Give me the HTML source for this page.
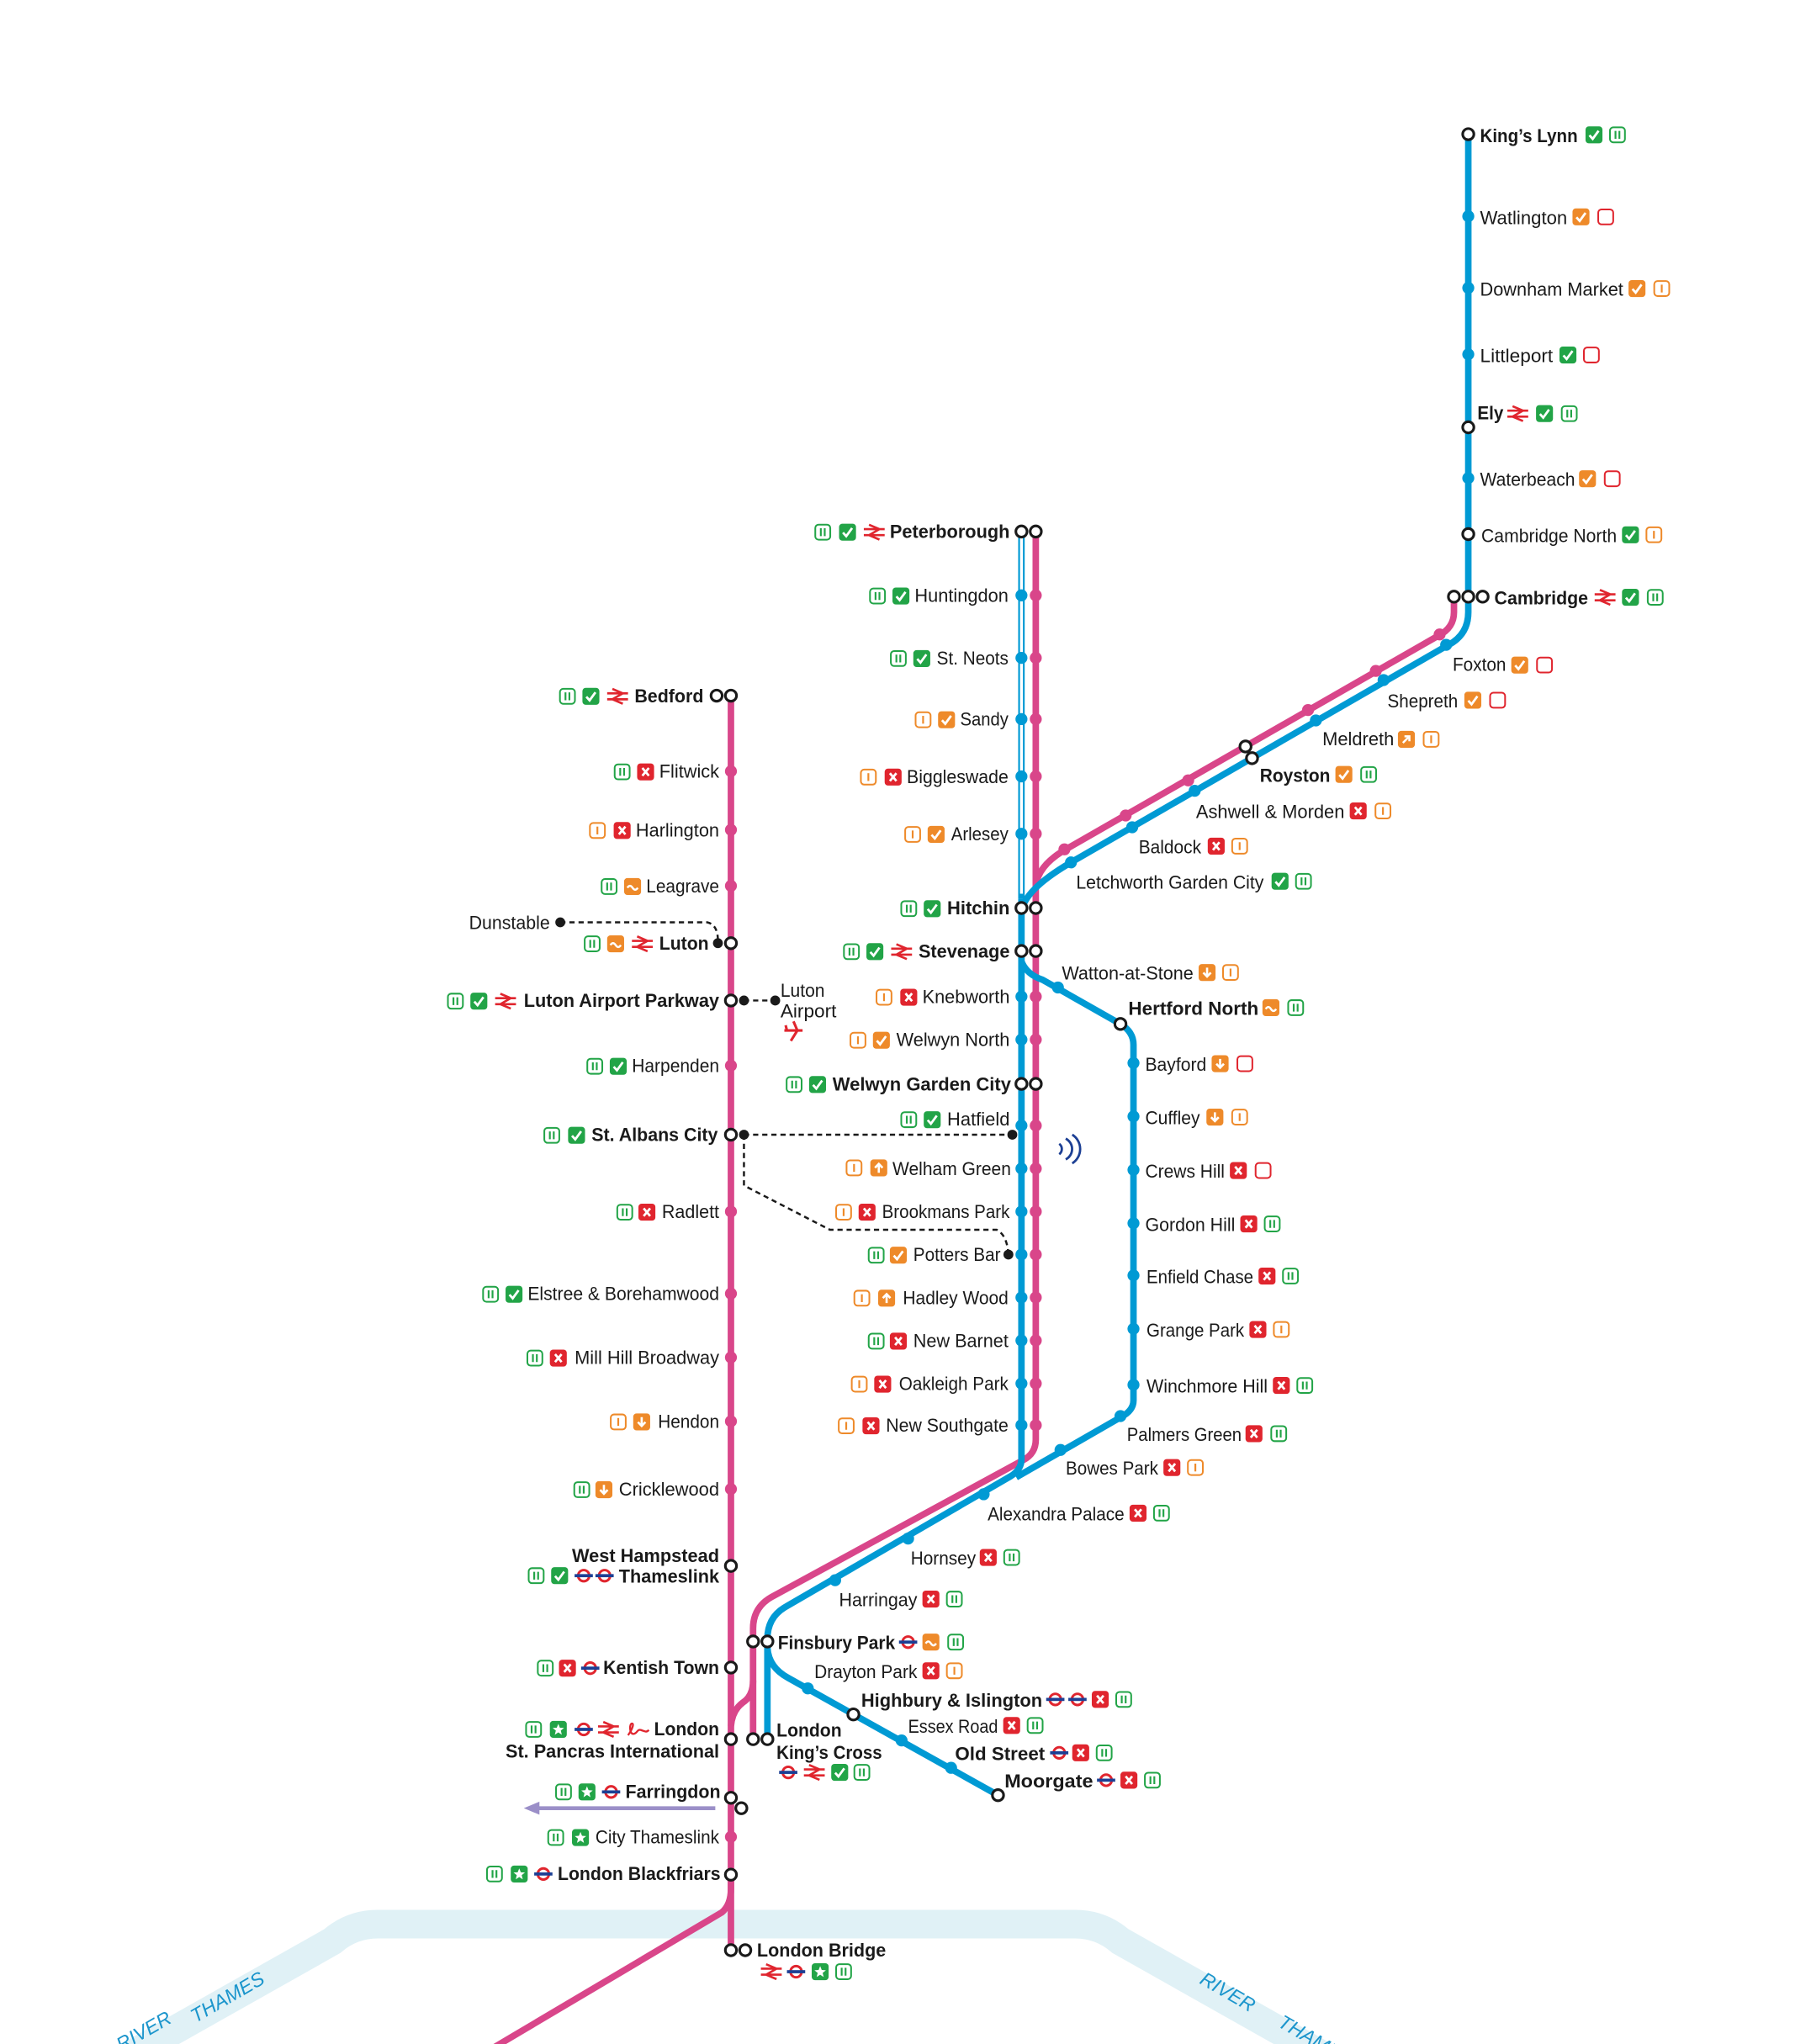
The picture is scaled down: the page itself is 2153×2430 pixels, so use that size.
<!DOCTYPE html>
<html><head><meta charset="utf-8">
<style>
html,body{margin:0;padding:0;background:#fff;}
svg{display:block;}
text{font-family:"Liberation Sans",sans-serif;font-size:14.5px;fill:#1a1a1a;}
.b{font-weight:bold;}
.riv{fill:#1b95cc;font-style:italic;font-size:15px;}
</style></head><body>
<svg width="2153" height="2430" viewBox="0 0 1390 1569" xmlns="http://www.w3.org/2000/svg">
<defs>
<g id="ii"><rect x=".75" y=".75" width="11.5" height="11.5" rx="2.5" fill="#fff" stroke="#22a447" stroke-width="1.3"/><path d="M5 3.5v6M8 3.5v6" stroke="#22a447" stroke-width="1.4"/></g>
<g id="io"><rect x=".75" y=".75" width="11.5" height="11.5" rx="2.5" fill="#fff" stroke="#ee8a2a" stroke-width="1.3"/><path d="M6.5 3.5v6" stroke="#ee8a2a" stroke-width="1.4"/></g>
<g id="ir"><rect x=".75" y=".75" width="11.5" height="11.5" rx="2.5" fill="#fff" stroke="#e0252e" stroke-width="1.3"/></g>
<g id="cg"><rect width="13" height="13" rx="2.5" fill="#22a447"/><path d="M3 6.8l2.5 2.8 4.5-6.2" stroke="#fff" stroke-width="1.8" fill="none"/></g>
<g id="co"><rect width="13" height="13" rx="2.5" fill="#ee8a2a"/><path d="M3 6.8l2.5 2.8 4.5-6.2" stroke="#fff" stroke-width="1.8" fill="none"/></g>
<g id="x"><rect width="13" height="13" rx="2.5" fill="#e0252e"/><path d="M4 3.5l5 6M9 3.5l-5 6" stroke="#fff" stroke-width="1.8"/></g>
<g id="w"><rect width="13" height="13" rx="2.5" fill="#ee8a2a"/><path d="M2.5 7.5q2-3 4 0t4 0" stroke="#fff" stroke-width="1.6" fill="none"/></g>
<g id="d"><rect width="13" height="13" rx="2.5" fill="#ee8a2a"/><path d="M6.5 2.8v7M3.6 6.6l2.9 3 2.9-3" stroke="#fff" stroke-width="1.7" fill="none"/></g>
<g id="u"><rect width="13" height="13" rx="2.5" fill="#ee8a2a"/><path d="M6.5 10.2v-7M3.6 6.4l2.9-3 2.9 3" stroke="#fff" stroke-width="1.7" fill="none"/></g>
<g id="ne"><rect width="13" height="13" rx="2.5" fill="#ee8a2a"/><path d="M3.8 9.2l5-5M5 4.2h3.8v3.8" stroke="#fff" stroke-width="1.6" fill="none"/></g>
<g id="st"><rect width="13" height="13" rx="2.5" fill="#22a447"/><path d="M6.5 2.2l1.2 3 3.2.2-2.5 2 .8 3.2-2.7-1.8-2.7 1.8.8-3.2-2.5-2 3.2-.2z" fill="#fff"/></g>
<g id="nr"><path d="M0 4.2h16M0 8.8h16M4 .8l8 3.4-8 4.6 8 3.4" stroke="#e0252e" stroke-width="1.7" fill="none"/></g>
<g id="tb"><circle cx="7" cy="6.5" r="4.3" fill="none" stroke="#e0252e" stroke-width="1.9"/><rect x="0" y="5.3" width="14" height="2.4" fill="#1c3f94"/></g>
<g id="eu"><path d="M1 11c3-4 5-9 3-9s-2 8 1 8 3-4 6-3 4 2 6 0" stroke="#e0252e" stroke-width="1.5" fill="none"/></g>
<g id="rg"><circle r="4.3" fill="#fff" stroke="#1a1a1a" stroke-width="2"/></g>
<g id="bd"><circle r="4.6" fill="#009ad4"/></g>
<g id="pd"><circle r="4.6" fill="#d9468a"/></g>
<g id="kd"><circle r="3.8" fill="#1a1a1a"/></g>
</defs>

<!-- Thames -->
<path d="M60 1600 L255 1490 Q270 1477 290 1477 L825 1477 Q845 1477 860 1490 L1055 1600" fill="none" stroke="#e0f1f6" stroke-width="22"/>
<text class="riv" transform="translate(150,1553) rotate(-30)">THAMES</text>
<text class="riv" transform="translate(93,1575) rotate(-30)">RIVER</text>
<text class="riv" transform="translate(920,1522) rotate(30)">RIVER</text>
<text class="riv" transform="translate(980,1555) rotate(30)">THAMES</text>

<!-- Lines -->
<g fill="none" stroke-linejoin="round">
<!-- Thameslink pink -->
<path d="M561 534 L561 1497" stroke="#d9468a" stroke-width="5"/>
<path d="M561 1440 L561 1450 Q561 1462 554 1468 L365 1580" stroke="#d9468a" stroke-width="5"/>
<path d="M795 408 L795 1105 Q795 1116 785 1121 L592 1226 Q578 1234 578 1250 L578 1335" stroke="#d9468a" stroke-width="5"/>
<path d="M578 1290 Q578 1302 570 1307 Q562 1313 561 1325" stroke="#d9468a" stroke-width="5"/>
<path d="M1116 458 L1116 470 Q1116 482 1104 488 L818 652 Q797 664 795 680" stroke="#d9468a" stroke-width="5"/>
<!-- blue -->
<path d="M784 408 L784 690" stroke="#009ad4" stroke-width="5"/>
<path d="M784 412 L784 686" stroke="#fff" stroke-width="2.2"/>
<path d="M784 690 L784 1120 Q784 1128 776 1133 L602 1234 Q589 1242 589 1258 L589 1335" stroke="#009ad4" stroke-width="5"/>
<path d="M1127 103 L1127 470 Q1127 488 1110 496 L822 662 Q786 683 784 700" stroke="#009ad4" stroke-width="5"/>
<path d="M784 738 Q788 748 800 752 L860 786 Q870 792 870 802 L870 1075 Q870 1083 860 1088 L780 1134" stroke="#009ad4" stroke-width="5"/>
<path d="M589 1265 Q590 1280 605 1288 L766 1378" stroke="#009ad4" stroke-width="5"/>
<!-- purple -->
<path d="M549 1388 L410 1388" stroke="#9b8fc8" stroke-width="3"/>
</g>
<path d="M402 1388 L414 1383 L414 1393 Z" fill="#9b8fc8"/>
<!-- dashed links -->
<g fill="none" stroke="#1a1a1a" stroke-width="1.6" stroke-dasharray="4 3">
<path d="M430 708 L543 708 Q551 710 551 722"/>
<path d="M571 768 L595 768"/>
<path d="M571 871 L777 871"/>
<path d="M571 871 L571 910 L637 944 L765 944 Q773 948 774 963"/>
</g>
<use href="#kd" x="430" y="708"/><use href="#kd" x="551" y="724"/><use href="#kd" x="571" y="768"/><use href="#kd" x="595" y="768"/>
<use href="#kd" x="571" y="871"/><use href="#kd" x="777" y="871"/><use href="#kd" x="774" y="963"/>

<!-- pink line dots & rings (Bedford line) -->
<use href="#pd" x="561" y="592"/><use href="#pd" x="561" y="637"/><use href="#pd" x="561" y="680"/><use href="#pd" x="561" y="818"/>
<use href="#pd" x="561" y="930"/><use href="#pd" x="561" y="993"/><use href="#pd" x="561" y="1042"/><use href="#pd" x="561" y="1091"/>
<use href="#pd" x="561" y="1143"/><use href="#pd" x="561" y="1410"/>
<use href="#rg" x="550" y="534"/><use href="#rg" x="561" y="534"/><use href="#rg" x="561" y="724"/><use href="#rg" x="561" y="768"/>
<use href="#rg" x="561" y="871"/><use href="#rg" x="561" y="1202"/><use href="#rg" x="561" y="1280"/><use href="#rg" x="561" y="1335"/>
<use href="#rg" x="561" y="1380"/><use href="#rg" x="569" y="1388"/><use href="#rg" x="561" y="1439"/><use href="#rg" x="561" y="1497"/><use href="#rg" x="572" y="1497"/>

<!-- Peterborough line dots -->
<g>
<use href="#bd" x="784" y="457"/><use href="#pd" x="795" y="457"/>
<use href="#bd" x="784" y="505"/><use href="#pd" x="795" y="505"/>
<use href="#bd" x="784" y="552"/><use href="#pd" x="795" y="552"/>
<use href="#bd" x="784" y="596"/><use href="#pd" x="795" y="596"/>
<use href="#bd" x="784" y="640"/><use href="#pd" x="795" y="640"/>
<use href="#bd" x="784" y="765"/><use href="#pd" x="795" y="765"/>
<use href="#bd" x="784" y="798"/><use href="#pd" x="795" y="798"/>
<use href="#bd" x="784" y="864"/><use href="#pd" x="795" y="864"/>
<use href="#bd" x="784" y="897"/><use href="#pd" x="795" y="897"/>
<use href="#bd" x="784" y="930"/><use href="#pd" x="795" y="930"/>
<use href="#bd" x="784" y="963"/><use href="#pd" x="795" y="963"/>
<use href="#bd" x="784" y="996"/><use href="#pd" x="795" y="996"/>
<use href="#bd" x="784" y="1029"/><use href="#pd" x="795" y="1029"/>
<use href="#bd" x="784" y="1062"/><use href="#pd" x="795" y="1062"/>
<use href="#bd" x="784" y="1094"/><use href="#pd" x="795" y="1094"/>
</g>
<use href="#rg" x="784" y="408"/><use href="#rg" x="795" y="408"/><use href="#rg" x="784" y="697"/><use href="#rg" x="795" y="697"/>
<use href="#rg" x="784" y="730"/><use href="#rg" x="795" y="730"/><use href="#rg" x="784" y="832"/><use href="#rg" x="795" y="832"/>

<!-- Cambridge line -->
<use href="#bd" x="1127" y="166"/><use href="#bd" x="1127" y="221"/><use href="#bd" x="1127" y="272"/><use href="#bd" x="1127" y="367"/>
<use href="#rg" x="1127" y="103"/><use href="#rg" x="1127" y="328"/><use href="#rg" x="1127" y="410"/>
<use href="#rg" x="1116" y="458"/><use href="#rg" x="1127" y="458"/><use href="#rg" x="1138" y="458"/>
<use href="#bd" x="1110" y="495"/><use href="#bd" x="1062" y="522"/><use href="#bd" x="1010" y="553"/><use href="#bd" x="917" y="607"/><use href="#bd" x="869" y="635"/><use href="#bd" x="822" y="662"/>
<use href="#pd" x="1105" y="487"/><use href="#pd" x="1056" y="515"/><use href="#pd" x="1004" y="545"/><use href="#pd" x="912" y="599"/><use href="#pd" x="864" y="626"/><use href="#pd" x="817" y="652"/>
<use href="#rg" x="956" y="573"/><use href="#rg" x="961" y="582"/>

<!-- Hertford loop -->
<use href="#bd" x="812" y="758"/><use href="#rg" x="860" y="786"/>
<use href="#bd" x="870" y="816"/><use href="#bd" x="870" y="857"/><use href="#bd" x="870" y="898"/><use href="#bd" x="870" y="939"/>
<use href="#bd" x="870" y="979"/><use href="#bd" x="870" y="1020"/><use href="#bd" x="870" y="1063"/><use href="#bd" x="860" y="1087"/>
<use href="#bd" x="814" y="1113"/><use href="#bd" x="755" y="1147"/><use href="#bd" x="697" y="1181"/><use href="#bd" x="641" y="1213"/>
<use href="#rg" x="578" y="1260"/><use href="#rg" x="589" y="1260"/><use href="#rg" x="578" y="1335"/><use href="#rg" x="589" y="1335"/>
<use href="#bd" x="620" y="1296"/><use href="#rg" x="655" y="1316"/><use href="#bd" x="692" y="1336"/><use href="#bd" x="730" y="1357"/><use href="#rg" x="766" y="1378"/>

<!-- wifi -->
<g fill="none" stroke="#1c3f94" stroke-width="1.8"><path d="M813 878a5 5 0 0 1 0 8"/><path d="M818 874a9 9 0 0 1 0 16"/><path d="M823 871a13 13 0 0 1 0 22"/></g>
<!-- plane -->
<path d="M602 791 L616 791 M609 784 L612 791 L607 799 M603 787 L604 791" stroke="#e0252e" stroke-width="2" fill="none"/>

<!-- ===== Labels: Bedford line ===== -->
<use href="#ii" x="429" y="528"/><use href="#cg" x="447" y="528"/><use href="#nr" x="466" y="528"/>
<text class="b" x="487" y="539" textLength="53" lengthAdjust="spacingAndGlyphs">Bedford</text>
<use href="#ii" x="471" y="586"/><use href="#x" x="489" y="586"/>
<text x="506" y="597" textLength="46" lengthAdjust="spacingAndGlyphs">Flitwick</text>
<use href="#io" x="452" y="631"/><use href="#x" x="471" y="631"/>
<text x="488" y="642" textLength="64" lengthAdjust="spacingAndGlyphs">Harlington</text>
<use href="#ii" x="461" y="674"/><use href="#w" x="479" y="674"/>
<text x="496" y="685" textLength="56" lengthAdjust="spacingAndGlyphs">Leagrave</text>
<text x="360" y="713" textLength="62" lengthAdjust="spacingAndGlyphs">Dunstable</text>
<use href="#ii" x="448" y="718"/><use href="#w" x="466" y="718"/><use href="#nr" x="485" y="718"/>
<text class="b" x="506" y="729" textLength="38" lengthAdjust="spacingAndGlyphs">Luton</text>
<use href="#ii" x="343" y="762"/><use href="#cg" x="361" y="762"/><use href="#nr" x="380" y="762"/>
<text class="b" x="402" y="773" textLength="150" lengthAdjust="spacingAndGlyphs">Luton Airport Parkway</text>
<text x="599" y="765" textLength="34" lengthAdjust="spacingAndGlyphs">Luton</text>
<text x="599" y="781" textLength="43" lengthAdjust="spacingAndGlyphs">Airport</text>
<use href="#ii" x="450" y="812"/><use href="#cg" x="468" y="812"/>
<text x="485" y="823" textLength="67" lengthAdjust="spacingAndGlyphs">Harpenden</text>
<use href="#ii" x="417" y="865"/><use href="#cg" x="436" y="865"/>
<text class="b" x="454" y="876" textLength="97" lengthAdjust="spacingAndGlyphs">St. Albans City</text>
<use href="#ii" x="473" y="924"/><use href="#x" x="490" y="924"/>
<text x="508" y="935" textLength="44" lengthAdjust="spacingAndGlyphs">Radlett</text>
<use href="#ii" x="370" y="987"/><use href="#cg" x="388" y="987"/>
<text x="405" y="998" textLength="147" lengthAdjust="spacingAndGlyphs">Elstree &amp; Borehamwood</text>
<use href="#ii" x="404" y="1036"/><use href="#x" x="422" y="1036"/>
<text x="441" y="1047" textLength="111" lengthAdjust="spacingAndGlyphs">Mill Hill Broadway</text>
<use href="#io" x="468" y="1085"/><use href="#d" x="486" y="1085"/>
<text x="505" y="1096" textLength="47" lengthAdjust="spacingAndGlyphs">Hendon</text>
<use href="#ii" x="440" y="1137"/><use href="#d" x="457" y="1137"/>
<text x="475" y="1148" textLength="77" lengthAdjust="spacingAndGlyphs">Cricklewood</text>
<text class="b" x="439" y="1199" textLength="113" lengthAdjust="spacingAndGlyphs">West Hampstead</text>
<use href="#ii" x="405" y="1203"/><use href="#cg" x="423" y="1203"/><use href="#tb" x="441" y="1203"/><use href="#tb" x="457" y="1203"/>
<text class="b" x="475" y="1215" textLength="77" lengthAdjust="spacingAndGlyphs">Thameslink</text>
<use href="#ii" x="412" y="1274"/><use href="#x" x="429" y="1274"/><use href="#tb" x="446" y="1274"/>
<text class="b" x="463" y="1285" textLength="89" lengthAdjust="spacingAndGlyphs">Kentish Town</text>
<use href="#ii" x="403" y="1321"/><use href="#st" x="422" y="1321"/><use href="#tb" x="441" y="1321"/><use href="#nr" x="459" y="1321"/><use href="#eu" x="481" y="1321"/>
<text class="b" x="502" y="1332" textLength="50" lengthAdjust="spacingAndGlyphs">London</text>
<text class="b" x="388" y="1349" textLength="164" lengthAdjust="spacingAndGlyphs">St. Pancras International</text>
<use href="#ii" x="426" y="1369"/><use href="#st" x="444" y="1369"/><use href="#tb" x="462" y="1369"/>
<text class="b" x="480" y="1380" textLength="73" lengthAdjust="spacingAndGlyphs">Farringdon</text>
<use href="#ii" x="420" y="1404"/><use href="#st" x="439" y="1404"/>
<text x="457" y="1415" textLength="95" lengthAdjust="spacingAndGlyphs">City Thameslink</text>
<use href="#ii" x="373" y="1432"/><use href="#st" x="392" y="1432"/><use href="#tb" x="410" y="1432"/>
<text class="b" x="428" y="1443" textLength="125" lengthAdjust="spacingAndGlyphs">London Blackfriars</text>
<text class="b" x="581" y="1502" textLength="99" lengthAdjust="spacingAndGlyphs">London Bridge</text>
<use href="#nr" x="584" y="1507"/><use href="#tb" x="604" y="1507"/><use href="#st" x="623" y="1507"/><use href="#ii" x="641" y="1507"/>

<!-- ===== Labels: Peterborough line ===== -->
<use href="#ii" x="625" y="402"/><use href="#cg" x="644" y="402"/><use href="#nr" x="663" y="402"/>
<text class="b" x="683" y="413" textLength="92" lengthAdjust="spacingAndGlyphs">Peterborough</text>
<use href="#ii" x="667" y="451"/><use href="#cg" x="685" y="451"/>
<text x="702" y="462" textLength="72" lengthAdjust="spacingAndGlyphs">Huntingdon</text>
<use href="#ii" x="683" y="499"/><use href="#cg" x="701" y="499"/>
<text x="719" y="510" textLength="55" lengthAdjust="spacingAndGlyphs">St. Neots</text>
<use href="#io" x="702" y="546"/><use href="#co" x="720" y="546"/>
<text x="737" y="557" textLength="37" lengthAdjust="spacingAndGlyphs">Sandy</text>
<use href="#io" x="660" y="590"/><use href="#x" x="679" y="590"/>
<text x="696" y="601" textLength="78" lengthAdjust="spacingAndGlyphs">Biggleswade</text>
<use href="#io" x="694" y="634"/><use href="#co" x="712" y="634"/>
<text x="730" y="645" textLength="44" lengthAdjust="spacingAndGlyphs">Arlesey</text>
<use href="#ii" x="691" y="691"/><use href="#cg" x="709" y="691"/>
<text class="b" x="727" y="702" textLength="48" lengthAdjust="spacingAndGlyphs">Hitchin</text>
<use href="#ii" x="647" y="724"/><use href="#cg" x="665" y="724"/><use href="#nr" x="684" y="724"/>
<text class="b" x="705" y="735" textLength="70" lengthAdjust="spacingAndGlyphs">Stevenage</text>
<use href="#io" x="672" y="759"/><use href="#x" x="691" y="759"/>
<text x="708" y="770" textLength="67" lengthAdjust="spacingAndGlyphs">Knebworth</text>
<use href="#io" x="652" y="792"/><use href="#co" x="670" y="792"/>
<text x="688" y="803" textLength="87" lengthAdjust="spacingAndGlyphs">Welwyn North</text>
<use href="#ii" x="603" y="826"/><use href="#cg" x="621" y="826"/>
<text class="b" x="639" y="837" textLength="137" lengthAdjust="spacingAndGlyphs">Welwyn Garden City</text>
<use href="#ii" x="691" y="853"/><use href="#cg" x="709" y="853"/>
<text x="727" y="864" textLength="48" lengthAdjust="spacingAndGlyphs">Hatfield</text>
<use href="#io" x="649" y="890"/><use href="#u" x="668" y="890"/>
<text x="685" y="902" textLength="91" lengthAdjust="spacingAndGlyphs">Welham Green</text>
<use href="#io" x="641" y="924"/><use href="#x" x="659" y="924"/>
<text x="677" y="935" textLength="98" lengthAdjust="spacingAndGlyphs">Brookmans Park</text>
<use href="#ii" x="666" y="957"/><use href="#co" x="683" y="957"/>
<text x="701" y="968" textLength="67" lengthAdjust="spacingAndGlyphs">Potters Bar</text>
<use href="#io" x="655" y="990"/><use href="#u" x="674" y="990"/>
<text x="693" y="1001" textLength="81" lengthAdjust="spacingAndGlyphs">Hadley Wood</text>
<use href="#ii" x="666" y="1023"/><use href="#x" x="683" y="1023"/>
<text x="701" y="1034" textLength="73" lengthAdjust="spacingAndGlyphs">New Barnet</text>
<use href="#io" x="653" y="1056"/><use href="#x" x="671" y="1056"/>
<text x="690" y="1067" textLength="84" lengthAdjust="spacingAndGlyphs">Oakleigh Park</text>
<use href="#io" x="643" y="1088"/><use href="#x" x="662" y="1088"/>
<text x="680" y="1099" textLength="94" lengthAdjust="spacingAndGlyphs">New Southgate</text>

<!-- ===== Labels: Cambridge line ===== -->
<text class="b" x="1136" y="109" textLength="75" lengthAdjust="spacingAndGlyphs">King’s Lynn</text>
<use href="#cg" x="1217" y="97"/><use href="#ii" x="1235" y="97"/>
<text x="1136" y="172" textLength="67" lengthAdjust="spacingAndGlyphs">Watlington</text>
<use href="#co" x="1207" y="160"/><use href="#ir" x="1226" y="160"/>
<text x="1136" y="227" textLength="110" lengthAdjust="spacingAndGlyphs">Downham Market</text>
<use href="#co" x="1250" y="215"/><use href="#io" x="1269" y="215"/>
<text x="1136" y="278" textLength="56" lengthAdjust="spacingAndGlyphs">Littleport</text>
<use href="#cg" x="1197" y="266"/><use href="#ir" x="1215" y="266"/>
<text class="b" x="1134" y="322" textLength="20" lengthAdjust="spacingAndGlyphs">Ely</text>
<use href="#nr" x="1157" y="311"/><use href="#cg" x="1179" y="311"/><use href="#ii" x="1198" y="311"/>
<text x="1136" y="373" textLength="73" lengthAdjust="spacingAndGlyphs">Waterbeach</text>
<use href="#co" x="1212" y="361"/><use href="#ir" x="1231" y="361"/>
<text x="1137" y="416" textLength="104" lengthAdjust="spacingAndGlyphs">Cambridge North</text>
<use href="#cg" x="1245" y="404"/><use href="#io" x="1263" y="404"/>
<text class="b" x="1147" y="464" textLength="72" lengthAdjust="spacingAndGlyphs">Cambridge</text>
<use href="#nr" x="1224" y="452"/><use href="#cg" x="1245" y="452"/><use href="#ii" x="1264" y="452"/>
<text x="1115" y="515" textLength="41" lengthAdjust="spacingAndGlyphs">Foxton</text>
<use href="#co" x="1160" y="504"/><use href="#ir" x="1179" y="504"/>
<text x="1065" y="543" textLength="54" lengthAdjust="spacingAndGlyphs">Shepreth</text>
<use href="#co" x="1124" y="531"/><use href="#ir" x="1143" y="531"/>
<text x="1015" y="572" textLength="55" lengthAdjust="spacingAndGlyphs">Meldreth</text>
<use href="#ne" x="1073" y="561"/><use href="#io" x="1092" y="561"/>
<text class="b" x="967" y="600" textLength="54" lengthAdjust="spacingAndGlyphs">Royston</text>
<use href="#co" x="1025" y="588"/><use href="#ii" x="1044" y="588"/>
<text x="918" y="628" textLength="114" lengthAdjust="spacingAndGlyphs">Ashwell &amp; Morden</text>
<use href="#x" x="1036" y="616"/><use href="#io" x="1055" y="616"/>
<text x="874" y="655" textLength="48" lengthAdjust="spacingAndGlyphs">Baldock</text>
<use href="#x" x="927" y="643"/><use href="#io" x="945" y="643"/>
<text x="826" y="682" textLength="144" lengthAdjust="spacingAndGlyphs">Letchworth Garden City</text>
<use href="#cg" x="976" y="670"/><use href="#ii" x="994" y="670"/>

<!-- ===== Labels: Hertford loop ===== -->
<text x="815" y="752" textLength="101" lengthAdjust="spacingAndGlyphs">Watton-at-Stone</text>
<use href="#d" x="920" y="740"/><use href="#io" x="938" y="740"/>
<text class="b" x="866" y="779" textLength="100" lengthAdjust="spacingAndGlyphs">Hertford North</text>
<use href="#w" x="969" y="767"/><use href="#ii" x="988" y="767"/>
<text x="879" y="822" textLength="47" lengthAdjust="spacingAndGlyphs">Bayford</text>
<use href="#d" x="930" y="810"/><use href="#ir" x="949" y="810"/>
<text x="879" y="863" textLength="42" lengthAdjust="spacingAndGlyphs">Cuffley</text>
<use href="#d" x="926" y="851"/><use href="#io" x="945" y="851"/>
<text x="879" y="904" textLength="61" lengthAdjust="spacingAndGlyphs">Crews Hill</text>
<use href="#x" x="944" y="892"/><use href="#ir" x="963" y="892"/>
<text x="879" y="945" textLength="69" lengthAdjust="spacingAndGlyphs">Gordon Hill</text>
<use href="#x" x="952" y="933"/><use href="#ii" x="970" y="933"/>
<text x="880" y="985" textLength="82" lengthAdjust="spacingAndGlyphs">Enfield Chase</text>
<use href="#x" x="966" y="973"/><use href="#ii" x="984" y="973"/>
<text x="880" y="1026" textLength="75" lengthAdjust="spacingAndGlyphs">Grange Park</text>
<use href="#x" x="959" y="1014"/><use href="#io" x="977" y="1014"/>
<text x="880" y="1069" textLength="93" lengthAdjust="spacingAndGlyphs">Winchmore Hill</text>
<use href="#x" x="977" y="1057"/><use href="#ii" x="995" y="1057"/>
<text x="865" y="1106" textLength="88" lengthAdjust="spacingAndGlyphs">Palmers Green</text>
<use href="#x" x="956" y="1094"/><use href="#ii" x="975" y="1094"/>
<text x="818" y="1132" textLength="71" lengthAdjust="spacingAndGlyphs">Bowes Park</text>
<use href="#x" x="893" y="1120"/><use href="#io" x="911" y="1120"/>
<text x="758" y="1167" textLength="105" lengthAdjust="spacingAndGlyphs">Alexandra Palace</text>
<use href="#x" x="867" y="1155"/><use href="#ii" x="885" y="1155"/>
<text x="699" y="1201" textLength="50" lengthAdjust="spacingAndGlyphs">Hornsey</text>
<use href="#x" x="752" y="1189"/><use href="#ii" x="770" y="1189"/>
<text x="644" y="1233" textLength="60" lengthAdjust="spacingAndGlyphs">Harringay</text>
<use href="#x" x="708" y="1221"/><use href="#ii" x="726" y="1221"/>
<text class="b" x="597" y="1266" textLength="90" lengthAdjust="spacingAndGlyphs">Finsbury Park</text>
<use href="#tb" x="690" y="1254"/><use href="#w" x="708" y="1254"/><use href="#ii" x="727" y="1254"/>
<text x="625" y="1288" textLength="79" lengthAdjust="spacingAndGlyphs">Drayton Park</text>
<use href="#x" x="708" y="1276"/><use href="#io" x="726" y="1276"/>
<text class="b" x="661" y="1310" textLength="139" lengthAdjust="spacingAndGlyphs">Highbury &amp; Islington</text>
<use href="#tb" x="803" y="1298"/><use href="#tb" x="820" y="1298"/><use href="#x" x="838" y="1298"/><use href="#ii" x="856" y="1298"/>
<text x="697" y="1330" textLength="69" lengthAdjust="spacingAndGlyphs">Essex Road</text>
<use href="#x" x="770" y="1318"/><use href="#ii" x="788" y="1318"/>
<text class="b" x="733" y="1351" textLength="69" lengthAdjust="spacingAndGlyphs">Old Street</text>
<use href="#tb" x="806" y="1339"/><use href="#x" x="823" y="1339"/><use href="#ii" x="841" y="1339"/>
<text class="b" x="771" y="1372" textLength="68" lengthAdjust="spacingAndGlyphs">Moorgate</text>
<use href="#tb" x="842" y="1360"/><use href="#x" x="860" y="1360"/><use href="#ii" x="878" y="1360"/>
<text class="b" x="596" y="1333" textLength="50" lengthAdjust="spacingAndGlyphs">London</text>
<text class="b" x="596" y="1350" textLength="81" lengthAdjust="spacingAndGlyphs">King’s Cross</text>
<use href="#tb" x="598" y="1354"/><use href="#nr" x="617" y="1354"/><use href="#cg" x="638" y="1354"/><use href="#ii" x="655" y="1354"/>
</svg>
</body></html>
